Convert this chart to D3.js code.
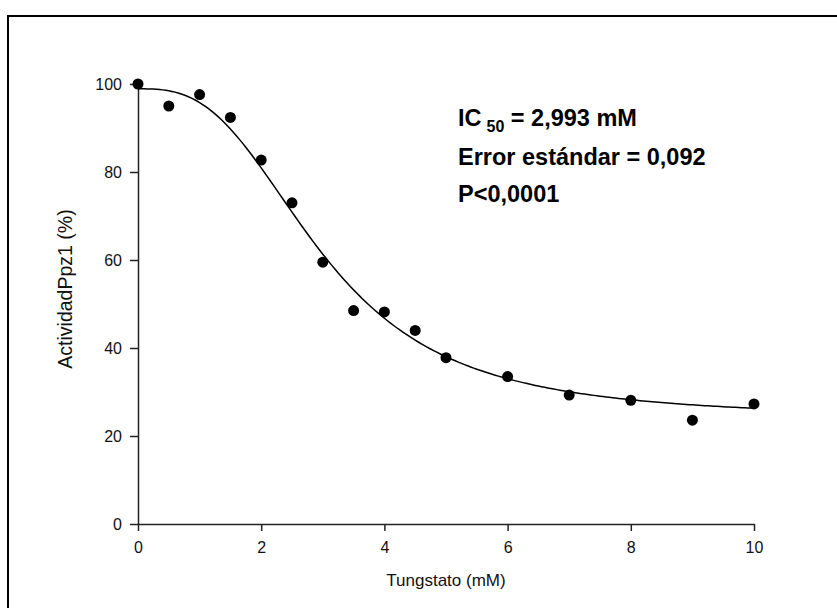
<!DOCTYPE html>
<html>
<head>
<meta charset="utf-8">
<script src="https://cdn.jsdelivr.net/npm/d3@7"></script>
<style>
  body { margin: 0; background: #fff; }
  svg { display: block; font-family: "Liberation Sans", Arial, sans-serif; }
</style>
</head>
<body>
<svg id="chart" width="837" height="608"></svg>
<script>
// measured points
const tungstato = [0, 0.5, 1, 1.5, 2, 2.5, 3, 3.5, 4, 4.5, 5, 6, 7, 8, 9, 10];
const actividad = [100, 95, 97.6, 92.4, 82.7, 73, 59.5, 48.5, 48.2, 44, 37.8, 33.5, 29.3, 28.1, 23.6, 27.3];

// fitted sigmoid (4 parameter logistic)
const fitTop = 98.9;
const fitBottom = 24;
const fitIC50 = 2.993;
const fitHill = 2.86;

const xTicks = [0, 2, 4, 6, 8, 10];
const yTicks = [0, 20, 40, 60, 80, 100];

const notes = ["Error estándar = 0,092", "P<0,0001"];

const svg = d3.select('#chart');

// outer frame, runs off the right and bottom edges
svg.append('rect')
    .attr('x', 8).attr('y', 16)
    .attr('width', 900).attr('height', 700)
    .attr('fill', 'none')
    .attr('stroke', '#000')
    .attr('stroke-width', 2);

const x = d3.scaleLinear().domain([0, 10]).range([138, 754]);
const y = d3.scaleLinear().domain([0, 100]).range([524, 84]);

const xAxis = svg.append('g')
    .attr('transform', 'translate(0,' + y(0) + ')')
    .call(d3.axisBottom(x).tickValues(xTicks).tickSize(7).tickSizeOuter(0).tickPadding(11));

const yAxis = svg.append('g')
    .attr('transform', 'translate(' + x(0) + ',0)')
    .call(d3.axisLeft(y).tickValues(yTicks).tickSize(8).tickSizeOuter(0).tickPadding(8));

[xAxis, yAxis].forEach(a => {
    a.selectAll('path, line').attr('stroke', '#222').attr('stroke-width', 1.5);
    a.selectAll('text')
        .attr('fill', '#111')
        .style('font-family', '"Liberation Sans", Arial, sans-serif')
        .style('font-size', '16px');
});

// fitted curve
function logistic(v) {
    return fitBottom + (fitTop - fitBottom) / (1 + Math.pow(v / fitIC50, fitHill));
}
const curveX = d3.range(0, 10.0001, 0.05);
svg.append('path')
    .datum(curveX)
    .attr('fill', 'none')
    .attr('stroke', '#000')
    .attr('stroke-width', 1.5)
    .attr('d', d3.line().x(d => x(d)).y(d => y(logistic(d))));

// points
svg.append('g')
    .selectAll('circle')
    .data(tungstato)
    .enter().append('circle')
    .attr('cx', d => x(d))
    .attr('cy', (d, i) => y(actividad[i]))
    .attr('r', 5.5)
    .attr('fill', '#000');

// axis titles
svg.append('text')
    .attr('x', (x(0) + x(10)) / 2)
    .attr('y', 586)
    .attr('text-anchor', 'middle')
    .style('font-size', '17px')
    .attr('fill', '#111')
    .text('Tungstato (mM)');

svg.append('text')
    .attr('transform', 'translate(72,289) rotate(-90)')
    .attr('text-anchor', 'middle')
    .style('font-size', '19.5px')
    .attr('fill', '#111')
    .text('ActividadPpz1 (%)');

// annotation
const ic = svg.append('text')
    .attr('x', 458).attr('y', 126)
    .style('font-size', '23.5px')
    .style('font-weight', 'bold');
ic.append('tspan').text('IC');
ic.append('tspan').attr('dx', 5).attr('dy', 6).style('font-size', '16px').text('50');
ic.append('tspan').attr('dy', -6).text(' = 2,993 mM');

svg.selectAll('.note')
    .data(notes)
    .enter().append('text')
    .attr('class', 'note')
    .attr('x', 458)
    .attr('y', (d, i) => 165 + i * 37)
    .style('font-size', '23.5px')
    .style('font-weight', 'bold')
    .text(d => d);
</script>
</body>
</html>
